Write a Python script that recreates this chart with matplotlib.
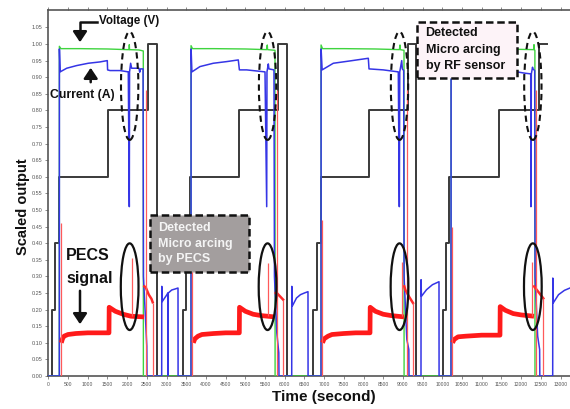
import numpy as np
import matplotlib
matplotlib.use('Agg')
import matplotlib.pyplot as plt
from matplotlib.patches import Ellipse, Rectangle, FancyArrowPatch
from matplotlib.lines import Line2D

nan = np.nan

# ---------------- data ----------------
x_ticks = [0, 500, 1000, 1500, 2000, 2500, 3000, 3500, 4000, 4500, 5000, 5500, 6000, 6500,
           7000, 7500, 8000, 8500, 9000, 9500, 10000, 10500, 11000, 11500, 12000, 12500, 13000]
y_ticks = [0.00, 0.05, 0.10, 0.15, 0.20, 0.25, 0.30, 0.35, 0.40, 0.45, 0.50, 0.55,
           0.60, 0.65, 0.70, 0.75, 0.80, 0.85, 0.90, 0.95, 1.00, 1.05]

# set-point staircase (black), step-post
black_t = [0, 86, 170, 280, 1523, 2538, 2751,
           3411, 3495, 3596, 4840, 5838, 6050,
           6718, 6812, 6914, 8140, 9129, 9332,
           10018, 10086, 10170, 11439, 12454, 12657]
black_v = [0, 0.2, 0.4, 0.6, 0.8, 1.0, 0,
           0.2, 0.4, 0.6, 0.8, 1.0, 0,
           0.2, 0.4, 0.6, 0.8, 1.0, 0,
           0.2, 0.4, 0.6, 0.8, 1.0, 1.0]

# voltage (green)
green_t = [0, 280, 281, 320, 800, 1500, 2000, 2050, 2056, 2062, 2300, 2411, 2413,
           3622, 3623, 3660, 4200, 5000, 5540, 5558, 5566, 5754, 5756,
           6922, 6923, 6960, 7500, 8300, 8910, 8926, 8934, 9028, 9030,
           10221, 10222, 10260, 11000, 11900, 12320, 12327, 12334, 12350, 12352]
green_v = [0, 0, 0.993, 0.986, 0.986, 0.985, 0.983, 0.983, 0.998, 0.983, 0.982, 0.979, 0,
           0, 0.995, 0.986, 0.986, 0.985, 0.983, 0.997, 0.983, 0.981, 0,
           0, 0.997, 0.986, 0.986, 0.985, 0.983, 0.997, 0.983, 0.981, 0,
           0, 0.995, 0.986, 0.986, 0.984, 0.983, 0.998, 0.983, 0.981, 0]

# current (blue)
blue_t = [0, 280, 282, 300, 467, 720, 1015, 1312, 1497, 1505, 1566, 1820, 2030, 2056, 2062,
          2090, 2115, 2300, 2320, 2340, 2405, 2415, 2460, 2500, 2505,
          2878, 2880, 2890, 3005, 3035, 3040, 3045, 3132, 3216, 3292, 3294,
          3622, 3624, 3645, 3850, 4188, 4528, 4822, 4850, 5035, 5500, 5543, 5550,
          5584, 5600, 5728, 5740, 5800, 5850, 5855,
          6178, 6180, 6190, 6300, 6400, 6500, 6591, 6593,
          6922, 6924, 6950, 7234, 7657, 8122, 8140, 8503, 8883, 8909, 8920,
          8970, 8985, 9020, 9030, 9100, 9150, 9155,
          9459, 9461, 9470, 9600, 9750, 9916, 9918,
          10221, 10223, 10250, 10600, 11000, 11430, 11445, 11896, 12100, 12244, 12250, 12260,
          12290, 12300, 12345, 12355, 12420, 12470, 12475,
          12802, 12804, 12815, 12950, 13100, 13240]
blue_v = [0, 0, 0.985, 0.916, 0.927, 0.935, 0.942, 0.946, 0.950, 0.922, 0.920, 0.920, 0.916, 0.51, 0.916,
          0.942, 0.927, 0.927, 0.915, 0.925, 0.925, 0.30, 0.19, 0.09, 0,
          0, 0.27, 0.224, 0.244, 0.25, 0, 0.25, 0.259, 0.262, 0.265, 0,
          0, 0.985, 0.916, 0.932, 0.942, 0.947, 0.952, 0.922, 0.922, 0.916, 0.51, 0.916,
          0.94, 0.925, 0.922, 0.30, 0.13, 0.07, 0,
          0, 0.27, 0.21, 0.235, 0.245, 0.25, 0.254, 0,
          0, 0.985, 0.922, 0.942, 0.949, 0.957, 0.925, 0.922, 0.916, 0.51, 0.916,
          0.95, 0.925, 0.92, 0.30, 0.11, 0.08, 0,
          0, 0.29, 0.24, 0.26, 0.275, 0.284, 0,
          0, 0.985, 0.92, 0.935, 0.945, 0.95, 0.92, 0.916, 0.912, 0.91, 0.51, 0.91,
          0.93, 0.925, 0.92, 0.30, 0.12, 0.08, 0,
          0, 0.295, 0.22, 0.245, 0.258, 0.265]

# PECS signal band (red, thick)
pecs_t = [330, 360, 400, 500, 700, 1000, 1300, 1540, 1545, 1700, 1900, 2100, 2430, nan,
          3680, 3720, 3800, 3900, 4200, 4500, 4848, 4853, 5000, 5200, 5400, 5740, nan,
          6960, 7000, 7100, 7200, 7500, 7800, 8165, 8170, 8300, 8500, 8700, 9028, nan,
          10260, 10300, 10400, 10600, 11000, 11464, 11469, 11600, 11800, 12000, 12327]
pecs_v = [0.10, 0.112, 0.12, 0.125, 0.128, 0.13, 0.13, 0.13, 0.207, 0.195, 0.186, 0.18, 0.178, nan,
          0.10, 0.112, 0.12, 0.125, 0.128, 0.13, 0.13, 0.207, 0.195, 0.186, 0.182, 0.178, nan,
          0.10, 0.112, 0.12, 0.125, 0.128, 0.13, 0.13, 0.207, 0.195, 0.186, 0.182, 0.178, nan,
          0.10, 0.11, 0.118, 0.12, 0.123, 0.123, 0.209, 0.198, 0.188, 0.184, 0.18]

# PECS after switch-off (red hump)
hump_t = [2440, 2480, 2550, 2620, 2650, nan, 5770, 5800, 5880, 5960, nan,
          9035, 9060, 9150, 9256, nan, 12330, 12360, 12460, 12563]
hump_v = [0.27, 0.265, 0.245, 0.232, 0.222, nan, 0.25, 0.25, 0.24, 0.23, nan,
          0.27, 0.26, 0.24, 0.22, nan, 0.27, 0.265, 0.25, 0.234]

# thin red spikes (start, arc, high transient, end)
spike_t = [322, 2117, 2472, 2650, 3655, 5584, 5797, 5960, 6939, 8970, 9104, 9256,
           10238, 12268, 12378, 12563]
spike_lo = [0, 0.18, 0, 0, 0, 0.18, 0, 0, 0, 0.18, 0, 0, 0, 0.18, 0, 0]
spike_hi = [0.46, 0.355, 0.86, 0.22, 0.47, 0.34, 0.86, 0.23, 0.47, 0.344, 0.86, 0.22,
            0.45, 0.344, 0.86, 0.234]

# arc events (time of micro arcing per cycle)
arc_t = [2065, 5565, 8914, 12298]

# ---------------- figure ----------------
W, H = 570, 409
BOLD = ['Liberation Sans', 'DejaVu Sans']
plt.rcParams['font.family'] = BOLD
fig = plt.figure(figsize=(W / 100, H / 100), dpi=100)
fig.patch.set_facecolor('white')


def fx(x):
    return x / W


def fy(y):
    return 1 - y / H


ax = fig.add_axes([fx(48.3), fy(376), fx(570 - 48.3), (376 - 10) / H])
ax.set_xlim(0, 13241)
ax.set_ylim(0, 1.1024)

ax.plot(black_t, black_v, drawstyle='steps-post', color='#3a3a3a', lw=1.4, zorder=2)
ax.plot(green_t, green_v, color='#3fd43f', lw=1.0, zorder=3)
ax.plot(blue_t, blue_v, color='#3535e6', lw=1.1, zorder=4)
ax.plot(pecs_t, pecs_v, color='#ff1a1a', lw=3.4, zorder=5, solid_capstyle='butt')
ax.plot(hump_t, hump_v, color='#ff2a2a', lw=1.8, zorder=5)
ax.vlines(spike_t, spike_lo, spike_hi, color='#ff5a5a', lw=0.9, zorder=5)

# ellipses
for t in arc_t:
    ax.add_patch(Ellipse((t, 0.874), 440, 0.326, fill=False, ec='#111111',
                         lw=1.5, ls=(0, (3, 2)), zorder=6))
    ax.add_patch(Ellipse((t, 0.269), 450, 0.261, fill=False, ec='#111111',
                         lw=1.6, zorder=6))

# axes styling
for s in ['left', 'bottom', 'top']:
    ax.spines[s].set_color('#555555')
    ax.spines[s].set_linewidth(1.2)
ax.spines['right'].set_visible(False)
ax.set_xticks(x_ticks)
ax.set_xticklabels([str(v) for v in x_ticks], fontsize=3.6, color='#555555')
ax.set_yticks(y_ticks)
ax.set_yticklabels(['%.2f' % v for v in y_ticks], fontsize=4, color='#555555')
ax.tick_params(axis='both', length=2, width=0.6, color='#777777', pad=2)
ax.tick_params(axis='x', top=True, direction='out')

# axis labels
fig.text(fx(23), fy(207), 'Scaled output', rotation=90, ha='center', va='center',
         fontsize=10.5, fontweight='bold', color='#111111')
fig.text(fx(324), fy(397), 'Time (second)', ha='center', va='center',
         fontsize=11, fontweight='bold', color='#111111')

# annotation labels
fig.text(fx(99), fy(21), 'Voltage (V)', ha='left', va='center', fontsize=8.4,
         fontweight='bold', color='#111111')
fig.text(fx(50), fy(95), 'Current (A)', ha='left', va='center', fontsize=8.8,
         fontweight='bold', color='#111111')
fig.text(fx(66), fy(256), 'PECS', ha='left', va='center', fontsize=11.5,
         fontweight='bold', color='#111111')
fig.text(fx(66), fy(279), 'signal', ha='left', va='center', fontsize=11.5,
         fontweight='bold', color='#111111')

# arrows
fig.add_artist(Line2D([fx(97), fx(80), fx(80)], [fy(21.7), fy(21.7), fy(32)],
                      transform=fig.transFigure, color='#111111', lw=1.8))
fig.add_artist(FancyArrowPatch((fx(80), fy(30)), (fx(80), fy(45)), transform=fig.transFigure,
                               arrowstyle='-|>,head_length=0.45,head_width=0.3',
                               mutation_scale=14, color='#111111', lw=1.8))
fig.add_artist(FancyArrowPatch((fx(90.7), fy(85)), (fx(90.7), fy(65)), transform=fig.transFigure,
                               arrowstyle='-|>,head_length=0.45,head_width=0.3',
                               mutation_scale=14, color='#111111', lw=1.8))
fig.add_artist(FancyArrowPatch((fx(80), fy(288)), (fx(80), fy(327)), transform=fig.transFigure,
                               arrowstyle='-|>,head_length=0.45,head_width=0.3',
                               mutation_scale=14, color='#111111', lw=1.8))

# grey box: Detected by PECS
fig.add_artist(Rectangle((fx(150), fy(272)), (249 - 150) / W, (272 - 215) / H,
                         transform=fig.transFigure, fc='#a39e9e', ec='#111111',
                         lw=1.8, ls=(0, (3, 1.5)), zorder=7))
for txt, yy in zip(['Detected', 'Micro arcing', 'by PECS'], [228, 243.5, 259]):
    fig.text(fx(158), fy(yy), txt, ha='left', va='center', fontsize=9,
             fontweight='bold', color='#f4f4f4', zorder=8)

# pink box: Detected by RF sensor
fig.add_artist(Rectangle((fx(417), fy(77.7)), (517 - 417) / W, (77.7 - 21.7) / H,
                         transform=fig.transFigure, fc='#fdf3f8', ec='#111111',
                         lw=1.8, ls=(0, (3, 1.5)), zorder=7))
for txt, yy in zip(['Detected', 'Micro arcing', 'by RF sensor'], [33.5, 50, 66]):
    fig.text(fx(425.5), fy(yy), txt, ha='left', va='center', fontsize=9,
             fontweight='bold', color='#111111', zorder=8)

fig.savefig('out.png', dpi=100)
